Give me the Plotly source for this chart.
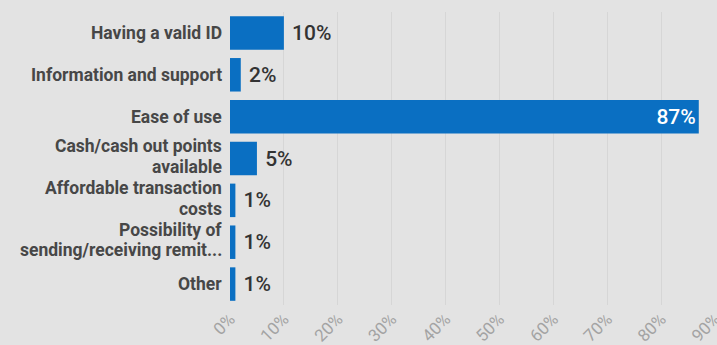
import plotly.graph_objects as go

categories = [
    "Having a valid ID",
    "Information and support",
    "Ease of use",
    "Cash/cash out points<br>available",
    "Affordable transaction<br>costs",
    "Possibility of<br>sending/receiving remit...",
    "Other",
]
shares = [10, 2, 87, 5, 1, 1, 1]
x_ticks = [0, 10, 20, 30, 40, 50, 60, 70, 80, 90]
x_tick_labels = [f"{v}%" for v in x_ticks]
value_labels = [f"{v}%" for v in shares]

BAR_BLUE = "#0a6fc2"
BG = "#e3e3e3"
LABEL_SIZE = 17.5
LINE_STEP = 20.5  # px between lines of a wrapped category label

# long bars carry their label inside, short ones just past the bar end
positions = ["inside" if v > 50 else "outside" for v in shares]
labels_shown = [t if p == "inside" else " " + t for t, p in zip(value_labels, positions)]

fig = go.Figure(
    go.Bar(
        x=shares,
        y=categories,
        orientation="h",
        marker=dict(color=BAR_BLUE, line=dict(width=0)),
        text=labels_shown,
        textposition=positions,
        insidetextanchor="end",
        outsidetextfont=dict(family="Roboto", size=21, color="#333333", weight=500),
        insidetextfont=dict(family="Roboto", size=21, color="#ffffff", weight=500),
        cliponaxis=False,
        hoverinfo="skip",
    )
)

# category labels, one annotation per text line for tight line spacing
for cat in categories:
    lines = cat.split("<br>")
    n = len(lines)
    for i, line in enumerate(lines):
        offset = ((n - 1) / 2 - i) * LINE_STEP + (2 if n > 1 else 0)
        fig.add_annotation(
            text=line,
            xref="paper",
            x=0,
            xanchor="right",
            xshift=-7,
            yref="y",
            y=cat,
            yanchor="middle",
            yshift=offset,
            borderpad=0,
            showarrow=False,
            font=dict(family="Roboto", size=LABEL_SIZE, color="#474747", weight=700),
        )

fig.update_layout(
    width=717,
    height=345,
    margin=dict(l=230, r=2, t=12, b=40),
    paper_bgcolor=BG,
    plot_bgcolor=BG,
    bargap=0.2,
    showlegend=False,
    xaxis=dict(
        range=[0, 90.01],
        tickvals=x_ticks,
        ticktext=x_tick_labels,
        tickangle=-45,
        ticklabeloverflow="allow",
        showgrid=True,
        gridcolor="#d6d6d6",
        gridwidth=1,
        zeroline=False,
        showline=False,
        tickfont=dict(family="Roboto", size=17, color="#a3a3a3"),
        automargin=False,
    ),
    yaxis=dict(
        autorange="reversed",
        showgrid=False,
        zeroline=False,
        showline=False,
        ticks="",
        showticklabels=False,
        automargin=False,
    ),
)

fig.write_html("out.html")
